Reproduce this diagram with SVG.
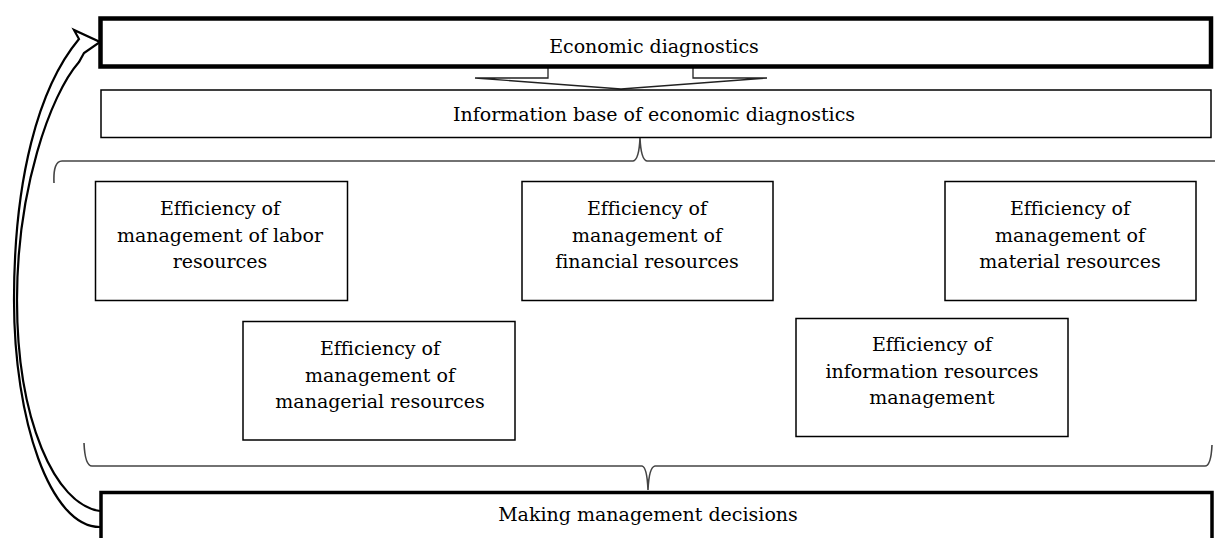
<svg xmlns="http://www.w3.org/2000/svg" width="1215" height="538" viewBox="0 0 1215 538">
<style>
.t{font-family:"DejaVu Serif","Liberation Serif",serif;font-size:19px;fill:#000;text-anchor:middle;font-variant-ligatures:none}
.box{fill:#fff;stroke:#000;stroke-width:1.5}
.thick{fill:#fff;stroke:#000;stroke-width:4.5}
.brace{fill:none;stroke:#444;stroke-width:1.6}
</style>
<rect width="1215" height="538" fill="#fff"/>
<g id="connectors">
  <path id="feedback-arrow" d="M100,527 C50,527 14,420 14,300 C14,180 38,88 79,39 L74,30 L100,42 L84,53 L79,62 C50,95 17,190 17,300 C17,420 55,505 100,511" fill="#fff" stroke="#000" stroke-width="2.2" stroke-linejoin="miter"/>
  <polygon id="down-arrow" points="548,67 548,78 475,78 621,89 767,78 693,78 693,67" fill="#fff" stroke="#222" stroke-width="1.3"/>
  <path id="brace-top" class="brace" d="M54,183 Q53,161 62,161 L633,161 Q639,160 640,138 Q641,160 647,161 L1215,161"/>
  <path id="brace-bottom" class="brace" d="M84,443 Q85,466 92,466 L642,466 Q647,467 648,490 Q649,467 655,466 L1205,466 Q1211,466 1212,445"/>
</g>
<g id="economic-diagnostics">
  <rect class="thick" x="100.5" y="18.5" width="1110.5" height="48"/>
  <text class="t" x="654" y="53">Economic diagnostics</text>
</g>
<g id="information-base">
  <rect class="box" x="101" y="90" width="1110" height="47.5"/>
  <text class="t" x="654" y="121">Information base of economic diagnostics</text>
</g>
<g id="labor">
  <rect class="box" x="95.5" y="181.5" width="252" height="119"/>
  <text class="t" x="220" y="215">Efficiency of</text>
  <text class="t" x="220" y="242">management of labor</text>
  <text class="t" x="220" y="268">resources</text>
</g>
<g id="financial">
  <rect class="box" x="522" y="181.5" width="251" height="119"/>
  <text class="t" x="647" y="215">Efficiency of</text>
  <text class="t" x="647" y="242">management of</text>
  <text class="t" x="647" y="268">financial resources</text>
</g>
<g id="material">
  <rect class="box" x="945" y="181.5" width="251" height="119"/>
  <text class="t" x="1070" y="215">Efficiency of</text>
  <text class="t" x="1070" y="242">management of</text>
  <text class="t" x="1070" y="268">material resources</text>
</g>
<g id="managerial">
  <rect class="box" x="243" y="321.5" width="272" height="118.5"/>
  <text class="t" x="380" y="355">Efficiency of</text>
  <text class="t" x="380" y="382">management of</text>
  <text class="t" x="380" y="408">managerial resources</text>
</g>
<g id="information">
  <rect class="box" x="796" y="318.5" width="272" height="118"/>
  <text class="t" x="932" y="351">Efficiency of</text>
  <text class="t" x="932" y="378">information resources</text>
  <text class="t" x="932" y="404">management</text>
</g>
<g id="making-decisions">
  <rect x="101" y="492.5" width="1111" height="60" fill="#fff" stroke="#000" stroke-width="3.5"/>
  <text class="t" x="648" y="521">Making management decisions</text>
</g>
</svg>
